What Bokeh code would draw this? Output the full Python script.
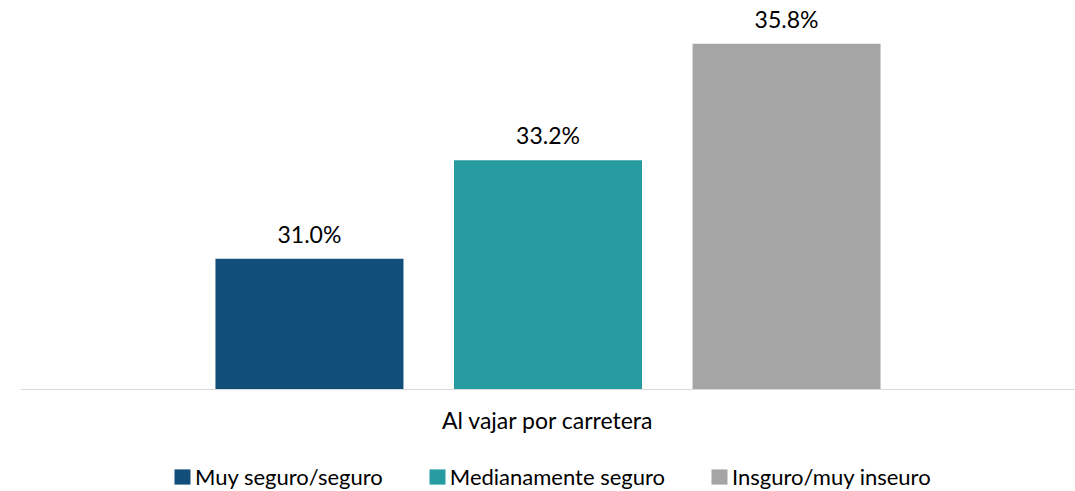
from bokeh.plotting import figure
from bokeh.models import ColumnDataSource, FactorRange, Legend, LegendItem, LabelSet, Range1d
from bokeh.core.properties import value
from bokeh.transform import dodge
from bokeh.embed import file_html
from bokeh.resources import INLINE

# ---- data ----
category = ["Al vajar por carretera"]
series = ["Muy seguro/seguro", "Medianamente seguro", "Insguro/muy inseuro"]
values = [31.0, 33.2, 35.8]
colors = ["#114E79", "#269BA0", "#A5A5A5"]

FONT = "Lato"
FS = "23px"
LEG_FS = "22px"
Y0 = 28.08          # value at the baseline
PX_PER_UNIT = 44.79
Y_START = Y0 - 102 / PX_PER_UNIT
Y_END = Y0 + 389 / PX_PER_UNIT
step = 0.2261
bar_w = 0.1782

p = figure(frame_width=1055, frame_height=491,
           x_range=FactorRange(*category), y_range=Range1d(Y_START, Y_END),
           output_backend="svg", toolbar_location=None,
           min_border_left=20, min_border_right=0,
           min_border_top=0, min_border_bottom=0)
p.outline_line_color = None
p.grid.visible = False
p.yaxis.visible = False
p.background_fill_color = "white"
p.border_fill_color = "white"

xa = p.xaxis[0]
xa.fixed_location = Y0
xa.axis_line_color = "#D9D9D9"
xa.axis_line_width = 1
xa.major_tick_line_color = None
xa.minor_tick_line_color = None
xa.major_tick_out = 0
xa.major_label_standoff = 16
xa.major_label_text_font = FONT
xa.major_label_text_font_size = FS
xa.major_label_text_color = "#000000"

items = []
for i, (name, val, col) in enumerate(zip(series, values, colors)):
    off = (i - 1) * step
    src = ColumnDataSource(dict(x=category, top=[val], label=[f"{val:.1f}%"]))
    r = p.vbar(x=dodge("x", off, range=p.x_range), top="top", bottom=Y0,
               width=bar_w, source=src, fill_color=col, line_color=None)
    lab = LabelSet(x=dodge("x", off, range=p.x_range), y="top", text="label",
                   source=src, text_align="center", text_baseline="middle",
                   y_offset=25, text_font=value(FONT), text_font_size=value(FS),
                   text_color="#000000")
    p.add_layout(lab)
    items.append(LegendItem(label=name, renderers=[r]))

legend = Legend(items=items, orientation="horizontal", location=(152, 1),
                border_line_color=None, background_fill_alpha=0,
                padding=0, margin=0, spacing=44, label_standoff=3,
                glyph_width=20, glyph_height=19,
                label_text_font=FONT, label_text_font_size=LEG_FS,
                label_text_color="#000000")
p.add_layout(legend, "center")

open("out.html", "w").write(file_html(p, INLINE))
